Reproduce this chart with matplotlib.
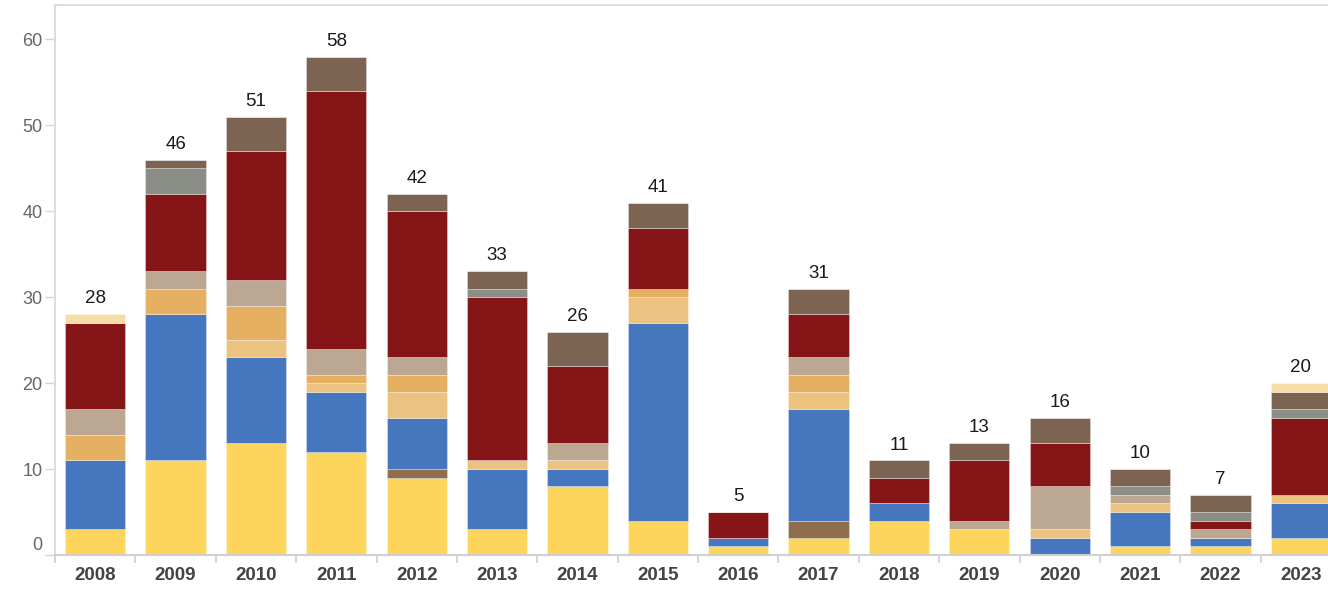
import numpy as np
import matplotlib
matplotlib.use("Agg")
import matplotlib.pyplot as plt
from matplotlib.transforms import ScaledTranslation

plt.rcParams['font.family'] = ['Liberation Sans', 'DejaVu Sans']

years = [str(y) for y in range(2008, 2024)]

# stacked series, bottom to top
yellow      = [3, 11, 13, 12, 9, 3, 8, 4, 1, 2, 4, 3, 0, 1, 1, 2]
dark_brown  = [0, 0, 0, 0, 1, 0, 0, 0, 0, 2, 0, 0, 0, 0, 0, 0]
blue        = [8, 17, 10, 7, 6, 7, 2, 23, 1, 13, 2, 0, 2, 4, 1, 4]
light_orng  = [0, 0, 2, 1, 3, 1, 1, 3, 0, 2, 0, 0, 1, 1, 0, 1]
orange      = [3, 3, 4, 1, 2, 0, 0, 1, 0, 2, 0, 0, 0, 0, 0, 0]
taupe       = [3, 2, 3, 3, 2, 0, 2, 0, 0, 2, 0, 1, 5, 1, 1, 0]
red         = [10, 9, 15, 30, 17, 19, 9, 7, 3, 5, 3, 7, 5, 0, 1, 9]
grey        = [0, 3, 0, 0, 0, 1, 0, 0, 0, 0, 0, 0, 0, 1, 1, 1]
brown       = [0, 1, 4, 4, 2, 2, 4, 3, 0, 3, 2, 2, 3, 2, 2, 2]
cream       = [1, 0, 0, 0, 0, 0, 0, 0, 0, 0, 0, 0, 0, 0, 0, 1]

series = [yellow, dark_brown, blue, light_orng, orange, taupe, red, grey, brown, cream]
colors = ['#FDD55C', '#8F6E4B', '#4676BE', '#ECC280', '#E5B062',
          '#BCA792', '#861518', '#8A8E86', '#7D6352', '#F8DCA6']

W, H = 1328, 590
fig = plt.figure(figsize=(W / 100, H / 100), dpi=100)
ax = fig.add_axes([55 / W, 35 / H, 1286 / W, 550 / H])

x = np.arange(len(years))
bottom = np.zeros(len(years))
for vals, c in zip(series, colors):
    vals = np.array(vals)
    ax.bar(x, vals, width=0.75, bottom=bottom, color=c,
           edgecolor=(1, 1, 1, 0.45), linewidth=0.5)
    bottom += vals

for xi, tot in zip(x, bottom):
    ax.annotate(str(int(tot)), (xi, tot), xytext=(0, 5), textcoords='offset points',
                ha='center', va='bottom', fontsize=13.5, color='#1a1a1a')

ax.set_xlim(-0.5, 15.5)
ax.set_ylim(0, 64)

ax.set_yticks(range(0, 61, 10))
ax.tick_params(axis='y', length=7, width=1, color='#d6d6d6', pad=2,
               labelsize=13, labelcolor='#666666')
zero_lab = ax.get_yticklabels()[0]
zero_lab.set_transform(zero_lab.get_transform() +
                       ScaledTranslation(0, 12 / 100, fig.dpi_scale_trans))

ax.set_xticks(x)
ax.set_xticklabels(years, fontsize=13.5, fontweight='bold', color='#444444')
ax.tick_params(axis='x', which='major', length=0, pad=9)
ax.set_xticks(np.arange(-0.5, 15.6, 1), minor=True)
ax.tick_params(axis='x', which='minor', length=6, width=1.5, color='#d6d6d6')

for side in ['left', 'top']:
    ax.spines[side].set_color('#dddddd')
    ax.spines[side].set_linewidth(1.5)
ax.spines['bottom'].set_color('#d0d0d0')
ax.spines['bottom'].set_linewidth(1.5)
ax.spines['right'].set_visible(False)

fig.savefig('out.png', dpi=100)
